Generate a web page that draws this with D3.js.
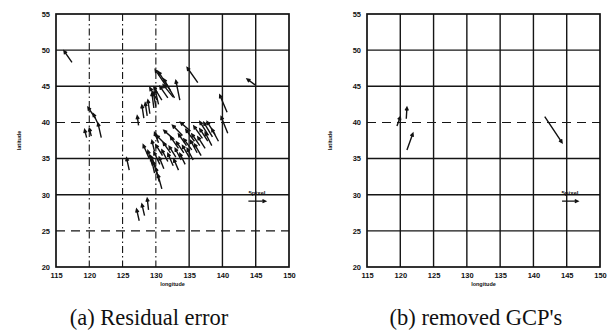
<!DOCTYPE html>
<html>
<head>
<meta charset="utf-8">
<script src="https://cdn.jsdelivr.net/npm/d3@7"></script>
<style>
  body { margin: 0; background: #fff; }
  svg { display: block; }
  .tick-label { font-family: "Liberation Sans", Arial, sans-serif; font-weight: bold; font-size: 7.5px; fill: #111; }
  .axis-title { font-family: "Liberation Sans", Arial, sans-serif; font-weight: bold; font-size: 5.5px; fill: #111; }
  .caption { font-family: "Liberation Serif", "Times New Roman", serif; font-size: 22.5px; fill: #111; }
</style>
</head>
<body>
<div id="chart"></div>
<script>
// axis ticks (degrees)
const lonTicks = [115, 120, 125, 130, 135, 140, 145, 150];
const latTicks = [20, 25, 30, 35, 40, 45, 50, 55];

// grid lines drawn dashed in each panel (rest are solid)
const dashedLonA = [120, 125, 130];
const dashedLatA = [25, 40];
const dashedLonB = [];
const dashedLatB = [40];

// residual vectors: [tail lon, tail lat, d lon, d lat]  (head = tail + d)
const residualArrows = [
    [117.4, 48.3, -1.2, 1.6],
    [120.9, 40.6, -1.1, 1.5],
    [121.4, 39.6, -0.8, 1.6],
    [121.8, 37.9, -0.5, 2.0],
    [119.6, 37.9, -0.3, 1.1],
    [120.3, 38.1, -0.3, 1.1],
    [126.0, 33.4, -0.4, 1.7],
    [127.4, 39.6, -0.2, 1.3],
    [127.5, 26.4, -0.4, 1.6],
    [128.3, 27.1, -0.4, 1.6],
    [128.9, 27.9, -0.2, 1.6],
    [128.2, 40.6, -0.3, 1.8],
    [128.7, 40.9, -0.3, 1.8],
    [129.1, 41.2, -0.3, 1.9],
    [129.7, 42.0, -0.3, 2.1],
    [130.0, 42.2, -0.4, 2.0],
    [130.4, 42.5, -0.5, 2.0],
    [131.7, 44.8, -1.8, 2.5],
    [132.2, 44.4, -1.8, 2.6],
    [132.8, 43.4, -1.6, 2.6],
    [130.2, 43.1, -1.1, 1.7],
    [130.9, 43.1, -1.2, 1.8],
    [131.8, 43.4, -1.2, 1.6],
    [132.6, 43.5, -1.5, 1.7],
    [133.6, 43.1, -0.6, 2.7],
    [136.3, 45.5, -1.6, 2.1],
    [144.9, 45.2, -1.2, 0.8],
    [140.7, 41.4, -1.1, 2.4],
    [140.8, 38.5, -1.0, 2.3],
    [137.9, 38.2, -1.3, 1.9],
    [138.5, 38.0, -1.3, 2.0],
    [138.9, 38.3, -1.2, 1.8],
    [129.0, 35.0, -0.9, 1.9],
    [129.5, 34.0, -0.7, 2.1],
    [129.8, 33.0, -0.5, 2.1],
    [130.9, 30.8, -0.6, 2.0],
    [130.5, 31.8, -0.5, 1.9],
    [130.2, 32.8, -0.6, 1.8],
    [130.0, 33.8, -0.8, 1.6],
    [130.6, 34.2, -0.9, 1.7],
    [131.2, 33.6, -0.7, 1.6],
    [131.0, 35.4, -1.0, 1.5],
    [131.8, 34.6, -0.9, 1.6],
    [132.2, 35.8, -1.1, 1.4],
    [132.6, 34.0, -0.8, 1.7],
    [133.0, 35.2, -1.0, 1.5],
    [133.4, 36.4, -1.2, 1.6],
    [133.8, 34.8, -0.9, 1.6],
    [134.2, 35.8, -1.1, 1.5],
    [134.6, 36.8, -1.2, 1.6],
    [135.0, 35.2, -1.0, 1.6],
    [135.4, 36.2, -1.2, 1.5],
    [135.8, 37.4, -1.3, 1.6],
    [136.2, 35.8, -1.0, 1.7],
    [136.6, 36.8, -1.2, 1.6],
    [137.0, 37.8, -1.3, 1.7],
    [137.4, 36.4, -1.1, 1.6],
    [137.8, 37.4, -1.2, 1.7],
    [138.4, 36.8, -1.0, 1.8],
    [139.4, 37.4, -1.0, 1.7],
    [131.6, 36.8, -1.5, 1.4],
    [132.8, 37.6, -1.6, 1.3],
    [134.0, 38.2, -1.5, 1.4],
    [135.2, 38.8, -1.5, 1.2],
    [133.4, 33.4, -0.7, 1.5],
    [130.4, 37.2, -0.6, 1.4],
    [129.8, 36.0, -0.4, 1.5],
    [134.4, 34.2, -0.8, 1.5],
    [135.6, 34.8, -0.9, 1.6],
    [136.8, 35.4, -1.0, 1.6]
];

// vectors of the removed GCPs
const removedArrows = [
    [119.5, 39.5, 0.5, 1.3],
    [120.9, 40.5, 0.1, 1.6],
    [121.0, 36.2, 0.9, 2.3],
    [141.7, 40.8, 2.6, -3.6]
];

// scale arrow (bottom right of each panel)
const scaleArrowA = [143.9, 29.1, 2.6, 0];
const scaleArrowB = [144.3, 29.1, 2.4, 0];
const scaleLabel = "5pixel";

const captions = ["(a) Residual error", "(b) removed GCP's"];

const W = 612, H = 332;
const svg = d3.select("#chart").append("svg")
    .attr("width", W)
    .attr("height", H);

const plotW = 233, plotH = 253;

const x = d3.scaleLinear().domain([115, 150]).range([0, plotW]);
const y = d3.scaleLinear().domain([20, 55]).range([plotH, 0]);

function arrowPath(a) {
    let x1 = x(a[0]), y1 = y(a[1]);
    let x2 = x(a[0] + a[2]), y2 = y(a[1] + a[3]);
    let ang = Math.atan2(y2 - y1, x2 - x1);
    let hl = 3.6, spread = 0.45;
    let p = `M${x1},${y1}L${x2},${y2}`;
    p += `M${x2 - hl * Math.cos(ang - spread)},${y2 - hl * Math.sin(ang - spread)}`;
    p += `L${x2},${y2}`;
    p += `L${x2 - hl * Math.cos(ang + spread)},${y2 - hl * Math.sin(ang + spread)}`;
    return p;
}

function drawPanel(left, top, arrows, scaleArrow, dashedLon, dashedLat, caption, cx) {
    let g = svg.append("g").attr("transform", `translate(${left},${top})`);

    // grid
    g.selectAll(".vgrid")
        .data(lonTicks.slice(1, -1))
        .join("line")
        .attr("x1", d => x(d)).attr("x2", d => x(d))
        .attr("y1", 0).attr("y2", plotH)
        .attr("stroke", "#151515")
        .attr("stroke-width", d => dashedLon.includes(d) ? 1.1 : 1.4)
        .attr("stroke-dasharray", d => dashedLon.includes(d) ? "7,3,1.5,3" : null);

    g.selectAll(".hgrid")
        .data(latTicks.slice(1, -1))
        .join("line")
        .attr("y1", d => y(d)).attr("y2", d => y(d))
        .attr("x1", 0).attr("x2", plotW)
        .attr("stroke", "#151515")
        .attr("stroke-width", d => dashedLat.includes(d) ? 1.1 : 1.4)
        .attr("stroke-dasharray", d => dashedLat.includes(d) ? "9,6" : null);

    // frame
    g.append("rect")
        .attr("width", plotW).attr("height", plotH)
        .attr("fill", "none")
        .attr("stroke", "#111")
        .attr("stroke-width", 1.7);

    // axes labels
    let xAxis = g.append("g")
        .attr("transform", `translate(0,${plotH})`)
        .call(d3.axisBottom(x).tickValues(lonTicks).tickSize(0).tickPadding(6));
    xAxis.select(".domain").remove();
    xAxis.selectAll("text").attr("class", "tick-label").attr("font-size", null).attr("font-family", null);

    let yAxis = g.append("g")
        .call(d3.axisLeft(y).tickValues(latTicks).tickSize(0).tickPadding(6));
    yAxis.select(".domain").remove();
    yAxis.selectAll("text").attr("class", "tick-label").attr("font-size", null).attr("font-family", null)
        .attr("dy", "0.32em");

    g.append("text")
        .attr("class", "axis-title")
        .attr("x", plotW / 2)
        .attr("y", plotH + 19)
        .attr("text-anchor", "middle")
        .text("longitude");

    g.append("text")
        .attr("class", "axis-title")
        .attr("transform", `translate(-35,${plotH / 2}) rotate(-90)`)
        .attr("text-anchor", "middle")
        .text("latitude");

    // vectors
    g.selectAll(".vec")
        .data(arrows)
        .join("path")
        .attr("d", arrowPath)
        .attr("fill", "none")
        .attr("stroke", "#111")
        .attr("stroke-width", 1.4)
        .attr("stroke-linejoin", "miter");

    g.append("path")
        .attr("d", arrowPath(scaleArrow))
        .attr("fill", "none")
        .attr("stroke", "#111")
        .attr("stroke-width", 1.3);

    g.append("text")
        .attr("class", "axis-title")
        .attr("x", x(scaleArrow[0] + scaleArrow[2] / 2))
        .attr("y", y(scaleArrow[1]) - 6)
        .attr("text-anchor", "middle")
        .style("font-size", "6px")
        .text(scaleLabel);

    svg.append("text")
        .attr("class", "caption")
        .attr("x", cx)
        .attr("y", 325)
        .attr("text-anchor", "middle")
        .text(caption);
}

drawPanel(56, 14, residualArrows, scaleArrowA, dashedLonA, dashedLatA, captions[0], 149);
drawPanel(367, 14, removedArrows, scaleArrowB, dashedLonB, dashedLatB, captions[1], 476);
</script>
</body>
</html>
